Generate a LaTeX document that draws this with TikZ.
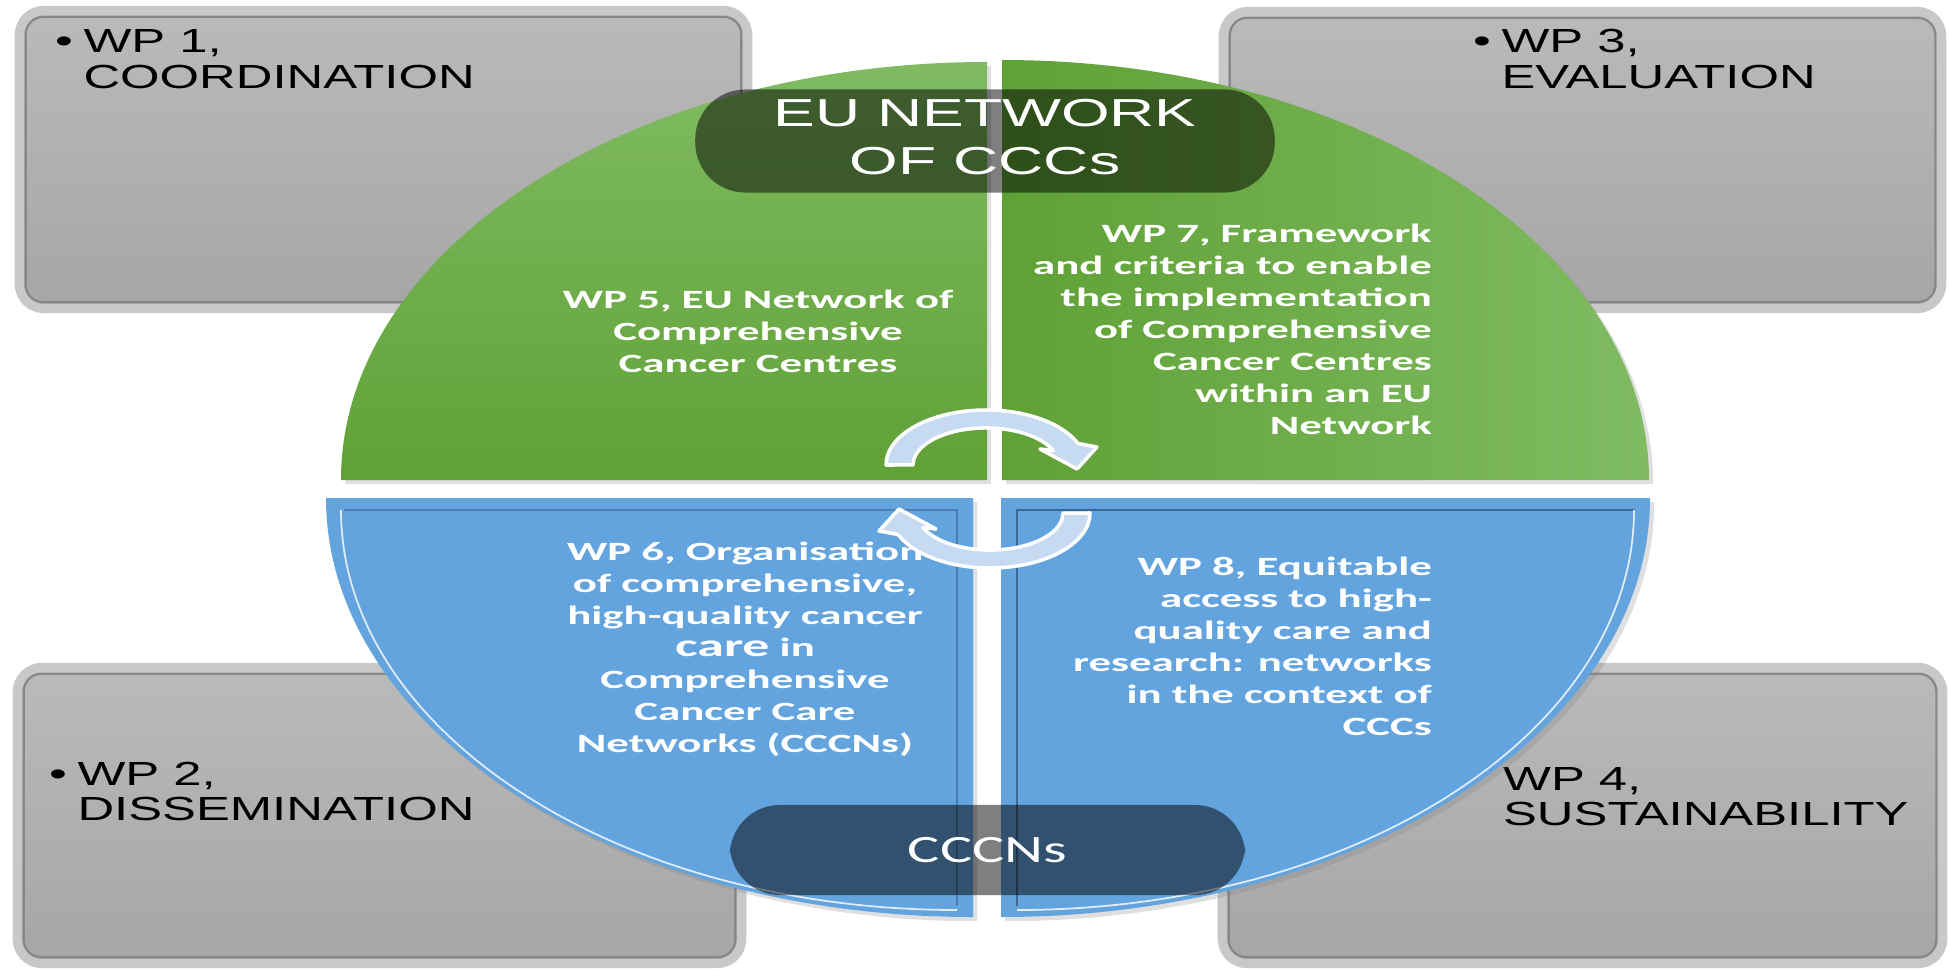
\documentclass[tikz,border=0pt]{standalone}
\usepackage{fontspec}
\setmainfont{Liberation Sans}
\newfontfamily\calibri{Carlito}
\usepackage{tikz}
\usetikzlibrary{shadows}

\definecolor{boxtop}{RGB}{186,186,186}
\definecolor{boxbot}{RGB}{166,166,166}
\definecolor{boxrim}{RGB}{200,200,200}
\definecolor{boxline}{RGB}{135,135,135}
\definecolor{greenlight}{RGB}{128,187,98}
\definecolor{greendark}{RGB}{96,161,54}
\definecolor{quadblue}{RGB}{99,164,223}
\definecolor{blueedge}{RGB}{58,102,145}
\definecolor{arrowblue}{RGB}{198,218,241}

\newcommand{\wpitem}[2]{\begin{tabular}[t]{@{}l@{\hspace{2pt}}l@{}}\textbullet & #1\\ & #2\end{tabular}}
\newcommand{\linesof}[2]{\begin{tabular}[t]{@{}#1@{}}#2\end{tabular}}

\begin{document}
\begin{tikzpicture}[x=0.01cm, y=-0.01cm,
	wpbox/.style={rectangle, rounded corners=7pt, draw=boxrim, line width=2.6pt, top color=boxtop, bottom color=boxbot, inner sep=0pt},
	wpline/.style={draw=boxline, line width=0.6pt, rounded corners=5pt},
	wptext/.style={inner sep=0pt, xscale=1.52, font=\fontsize{9.5}{10}\selectfont},
	quadshadow/.style={drop shadow={shadow xshift=1.2pt, shadow yshift=-1.2pt, opacity=0.25}},
	quadtext/.style={inner sep=0pt, xscale=1.7, text=white, font=\calibri\bfseries\fontsize{7.5}{9.1}\selectfont},
	quadedge/.style={draw=blueedge, line width=0.7pt},
	quadrim/.style={draw=white, line width=0.5pt, opacity=0.8},
	pill/.style={rectangle, rounded corners=0.5cm, inner sep=0pt, fill=black, fill opacity=0.5, text=white, text opacity=1},
	cyclearrow/.style={fill=arrowblue, draw=white, line width=1pt, line join=round}]
	\useasboundingbox (0,0) rectangle (1949,970);

	\node[wpbox, minimum width=7.28cm, minimum height=2.98cm] (wp1box) at (383.5,159.5) {};
	\node[wpbox, minimum width=7.18cm, minimum height=2.97cm] (wp3box) at (1582.5,160) {};
	\node[wpbox, minimum width=7.24cm, minimum height=2.96cm] (wp2box) at (379.5,815.5) {};
	\node[wpbox, minimum width=7.20cm, minimum height=2.96cm] (wp4box) at (1582.5,815.5) {};
	\draw[wpline] ([shift={(11,11)}]wp1box.north west) rectangle ([shift={(-11,-11)}]wp1box.south east);
	\draw[wpline] ([shift={(11,11)}]wp3box.north west) rectangle ([shift={(-11,-11)}]wp3box.south east);
	\draw[wpline] ([shift={(11,11)}]wp2box.north west) rectangle ([shift={(-11,-11)}]wp2box.south east);
	\draw[wpline] ([shift={(11,11)}]wp4box.north west) rectangle ([shift={(-11,-11)}]wp4box.south east);

	\node[wptext, anchor=base west] (wp1) at (54,53) {\wpitem{WP 1,}{COORDINATION}};
	\node[wptext, anchor=base west] (wp3) at (1472,53) {\wpitem{WP 3,}{EVALUATION}};
	\node[wptext, anchor=base west] (wp2) at (48,785) {\wpitem{WP 2,}{DISSEMINATION}};
	\node[wptext, anchor=base west] (wp4) at (1502,790) {\linesof{l}{WP 4,\\SUSTAINABILITY}};

	\path[quadshadow, top color=greenlight, bottom color=greendark] (987,480) -- (341,480) arc[start angle=180, end angle=270, x radius=646, y radius=418] -- cycle;
	\path[quadshadow, left color=greendark, right color=greenlight] (1002,480) -- (1002,60) arc[start angle=270, end angle=360, x radius=647, y radius=420] -- cycle;
	\path[quadshadow, fill=quadblue] (973,498) -- (326,498) arc[start angle=180, end angle=90, x radius=647, y radius=419] -- cycle;
	\path[quadshadow, fill=quadblue] (1001,498) -- (1001,917) arc[start angle=90, end angle=0, x radius=649, y radius=419] -- cycle;

	\draw[quadedge, opacity=0.6] (344,510) -- (957,510) -- (957,906);
	\draw[quadrim] (341,510) arc[start angle=180, end angle=90, x radius=616, y radius=400];
	\draw[quadedge] (1635,510) -- (1017,510) -- (1017,906);
	\draw[quadrim] (1017,910) arc[start angle=90, end angle=0, x radius=617, y radius=400];

	\node[quadtext, anchor=base] (wp5) at (758,308) {\linesof{c}{WP 5, EU Network of\\Comprehensive\\Cancer Centres}};
	\node[quadtext, anchor=base east] (wp7) at (1433,242) {\linesof{r}{WP 7, Framework\\and criteria to enable\\the implementation\\of Comprehensive\\Cancer Centres\\within an EU\\Network}};
	\node[quadtext, anchor=base] (wp6) at (745,560) {\linesof{c}{WP 6, Organisation\\of comprehensive,\\high-quality cancer\\{\fontsize{9}{9.1}\selectfont care} in\\Comprehensive\\Cancer Care\\Networks (CCCNs)}};
	\node[quadtext, anchor=base east] (wp8) at (1433,575) {\linesof{r}{WP 8, Equitable\\access to high-\\quality care and\\research: networks\\in the context of\\CCCs}};

	\node[pill, xscale=1.6, minimum width=3.62cm, minimum height=1.03cm, font=\fontsize{11.1}{13.7}\selectfont] (eupill) at (985,141) {\linesof{c}{EU NETWORK\\OF CCCs}};
	\node[pill, xscale=1.56, minimum width=3.3cm, minimum height=0.9cm, font=\calibri\fontsize{11}{13}\selectfont] (cccnpill) at (987.5,850) {CCCNs};

	\draw[cyclearrow, shift={(986,465)}] (-100,0) arc[start angle=180, end angle=337, x radius=100, y radius=55] -- (111,-18) -- (91,4) -- (54,-16) -- (67.2,-14.5) arc[start angle=337, end angle=180, x radius=73, y radius=37] -- cycle;
	\draw[cyclearrow, shift={(990,513)}, rotate=180] (-100,0) arc[start angle=180, end angle=337, x radius=100, y radius=55] -- (111,-18) -- (91,4) -- (54,-16) -- (67.2,-14.5) arc[start angle=337, end angle=180, x radius=73, y radius=37] -- cycle;
\end{tikzpicture}
\end{document}
